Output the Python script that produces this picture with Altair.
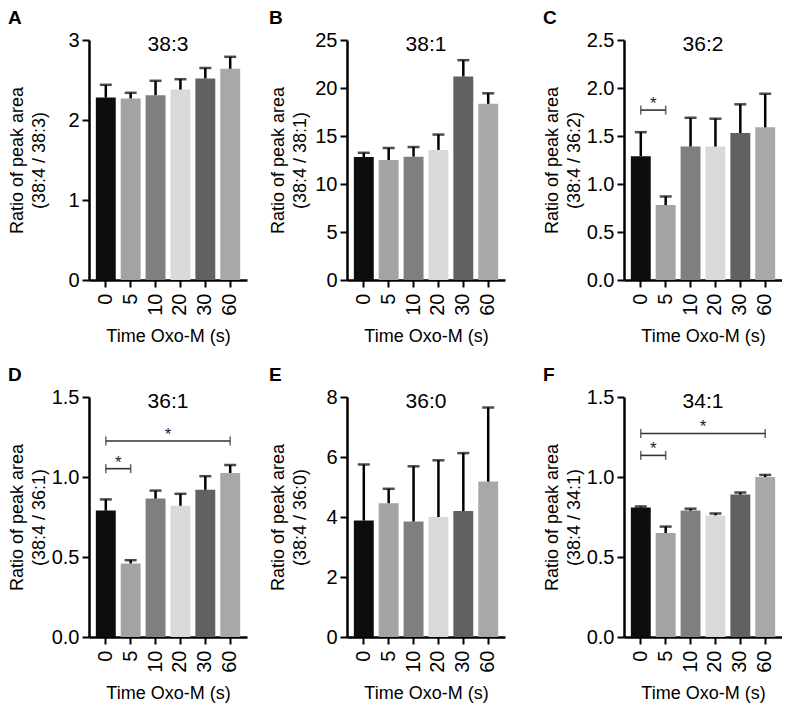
import altair as alt
import pandas as pd

times = ["0", "5", "10", "20", "30", "60"]
bar_colors = ["#0d0d0d", "#a3a3a6", "#7f7f80", "#d9d9d9", "#616161", "#a8a8ab"]

letters = ["A", "B", "C", "D", "E", "F"]
lipids = ["38:3", "38:1", "36:2", "36:1", "36:0", "34:1"]

mean_a = [2.28, 2.27, 2.31, 2.38, 2.52, 2.64]
sem_a = [0.16, 0.07, 0.18, 0.13, 0.13, 0.15]
mean_b = [12.8, 12.5, 12.85, 13.55, 21.2, 18.35]
sem_b = [0.45, 1.25, 1.0, 1.6, 1.7, 1.1]
mean_c = [1.29, 0.78, 1.39, 1.39, 1.53, 1.59]
sem_c = [0.25, 0.09, 0.30, 0.29, 0.30, 0.35]
mean_d = [0.79, 0.46, 0.865, 0.82, 0.92, 1.025]
sem_d = [0.07, 0.02, 0.05, 0.075, 0.085, 0.05]
mean_e = [3.88, 4.46, 3.85, 4.0, 4.2, 5.18]
sem_e = [1.87, 0.48, 1.84, 1.89, 1.93, 2.47]
mean_f = [0.81, 0.65, 0.79, 0.76, 0.89, 1.0]
sem_f = [0.006, 0.04, 0.012, 0.012, 0.013, 0.013]

means = [mean_a, mean_b, mean_c, mean_d, mean_e, mean_f]
sems = [sem_a, sem_b, sem_c, sem_d, sem_e, sem_f]

y_max = [3, 25, 2.5, 1.5, 8, 1.5]
y_ticks = [
    [0, 1, 2, 3],
    [0, 5, 10, 15, 20, 25],
    [0, 0.5, 1.0, 1.5, 2.0, 2.5],
    [0, 0.5, 1.0, 1.5],
    [0, 2, 4, 6, 8],
    [0, 0.5, 1.0, 1.5],
]
y_formats = ["d", "d", ".1f", ".1f", "d", ".1f"]

# significance brackets: panel index -> list of (start, end, level)
brackets = {
    2: [("0", "5", 1.77)],
    3: [("0", "5", 1.052), ("0", "60", 1.225)],
    5: [("0", "5", 1.135), ("0", "60", 1.272)],
}

W = 158
H = 240
P_IN = 0.2
P_OUT = 0.275
STEP = W / (len(times) - P_IN + 2 * P_OUT)
FONT = "Liberation Sans"
AXIS_EXTENT = [38, 35, 38, 38, 35, 38]


def panel(i):
    df = pd.DataFrame({
        "time": times,
        "mean": means[i],
        "top": [m + s for m, s in zip(means[i], sems[i])],
    })
    xscale = alt.Scale(domain=times, paddingInner=P_IN, paddingOuter=P_OUT)
    xaxis = alt.Axis(title="Time Oxo-M (s)", labelAngle=270)
    ytitle = ["Ratio of peak area", f"(38:4 / {lipids[i]})"]
    yscale = alt.Scale(domain=[0, y_max[i]], nice=False, zero=True)
    yaxis = alt.Axis(values=y_ticks[i], format=y_formats[i], title=ytitle,
                     minExtent=AXIS_EXTENT[i], maxExtent=AXIS_EXTENT[i])

    x = alt.X("time:N", sort=times, scale=xscale, axis=xaxis, title="Time Oxo-M (s)")
    base = alt.Chart(df)
    bars = base.mark_bar().encode(
        x=x,
        y=alt.Y("mean:Q", scale=yscale, axis=yaxis, title=ytitle),
        color=alt.Color("time:N", scale=alt.Scale(domain=times, range=bar_colors), legend=None),
    )
    stems = base.mark_rule(color="black", strokeWidth=2.5).encode(
        x=x,
        y=alt.Y("mean:Q", title=ytitle),
        y2="top:Q",
    )
    caps = base.mark_tick(color="black", thickness=2.5, size=12).encode(
        x=x,
        y=alt.Y("top:Q", title=ytitle),
    )
    ttl = alt.Chart(pd.DataFrame({"t": [lipids[i]]})).mark_text(
        fontSize=21, font=FONT, color="black", baseline="middle"
    ).encode(text="t:N", x=alt.value(W / 2), y=alt.value(5))

    layers = [bars, stems, caps, ttl]
    if i in brackets:
        for (s, e, lvl) in brackets[i]:
            bdf = pd.DataFrame({"time": [s], "end": [e], "level": [lvl], "star": ["*"]})
            edf = pd.DataFrame({"time": [s, e], "level": [lvl, lvl]})
            k = times.index(e) - times.index(s)
            line = alt.Chart(bdf).mark_rule(color="#333333", strokeWidth=1.6).encode(
                x=x, x2="end:N", y=alt.Y("level:Q", title=ytitle)
            )
            ends = alt.Chart(edf).mark_tick(
                color="#333333", thickness=1.6, size=9, orient="vertical"
            ).encode(x=x, y=alt.Y("level:Q", title=ytitle))
            star = alt.Chart(bdf).mark_text(
                fontSize=17, font=FONT, color="#222222", baseline="middle", dx=k * STEP / 2, dy=-6
            ).encode(x=x, y=alt.Y("level:Q", title=ytitle), text="star:N")
            layers += [line, ends, star]

    return alt.layer(*layers).properties(
        width=W,
        height=H,
        title=alt.Title(
            letters[i], anchor="start", frame="bounds", fontSize=19, fontWeight="bold",
            font=FONT, color="black", dx=0, offset=2,
        ),
    )


row1 = alt.hconcat(alt.hconcat(panel(0), panel(1), spacing=22), panel(2), spacing=38)
row2 = alt.hconcat(alt.hconcat(panel(3), panel(4), spacing=22), panel(5), spacing=38)
chart = alt.vconcat(row1, row2, spacing=20).properties(
    padding={"left": 0, "top": 1, "right": 0, "bottom": 0}
).configure_view(
    stroke=None
).configure_axis(
    domainColor="black", domainWidth=2.5, tickColor="black", tickWidth=2, tickSize=7,
    labelColor="black", labelFont=FONT, labelFontSize=20,
    titleFont=FONT, titleFontSize=18, titleFontWeight="normal", titleColor="black",
    titleLineHeight=22, grid=False,
).configure_axisX(labelPadding=6, titlePadding=12).configure_axisY(labelPadding=3, titlePadding=3)

chart.save("out.html", embed_options={"renderer": "svg", "actions": False})
